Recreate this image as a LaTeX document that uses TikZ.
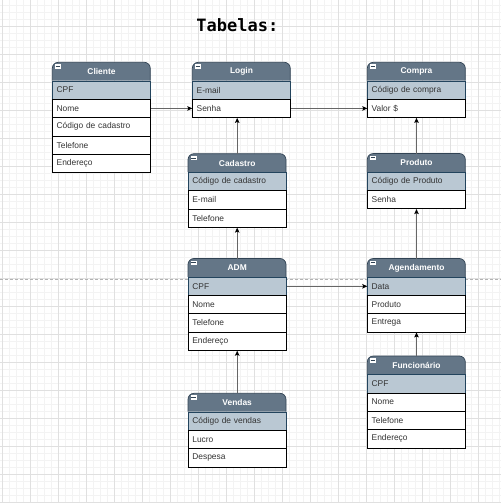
\documentclass[tikz,border=0pt]{standalone}
\usepackage{fontspec}
\setmainfont{Liberation Sans}
\newfontfamily\titlefont{DejaVu Sans Mono}
\usetikzlibrary{arrows.meta}
\definecolor{hdrfill}{HTML}{647687}
\definecolor{hdrline}{HTML}{314354}
\definecolor{keyfill}{HTML}{BAC8D3}
\definecolor{keyline}{HTML}{23445D}
\definecolor{gridmaj}{HTML}{E0E0E0}
\definecolor{gridmin}{HTML}{F3F3F3}
\definecolor{txt}{HTML}{333333}
\tikzset{
  hdrtext/.style={minimum width=98, minimum height=18.3, inner sep=0, text=white,
    font=\bfseries\fontsize{8.4}{10}\selectfont},
  fieldrow/.style={draw=black, line width=0.7, fill=white, minimum width=98,
    minimum height=18.3, inner xsep=4, inner ysep=0, text width=90, align=left,
    text=txt, font=\fontsize{8.4}{10}\selectfont},
  keyrow/.style={fieldrow, fill=keyfill, draw=keyline},
  conn/.style={draw=black!60, line width=1, -{Stealth[length=5pt,width=4.5pt,inset=1pt,color=black]}},
  minorgrid/.style={draw=gridmin, line width=0.6},
  majorgrid/.style={draw=gridmaj, line width=0.8},
  sepline/.style={draw=black!30, line width=0.8, dash pattern=on 3pt off 2pt}
}
\newcommand\dbtable[5]{%
  \filldraw[fill=hdrfill, draw=hdrline, line width=0.7, rounded corners=6]
    (#2,#3+18.3) -- (#2,#3) -- (#2+98,#3) -- (#2+98,#3+18.3);
  \node[hdrtext, anchor=north west] (#1) at (#2,#3) {#4};
  \fill[white] (#2+2.5,#3+2) rectangle (#2+8.5,#3+6.5);
  \draw[hdrline, line width=0.6] (#2+3.3,#3+4.25) -- (#2+7.7,#3+4.25);
  \foreach \f [count=\k] in {#5} {%
    \ifnum\k=1
      \node[keyrow, anchor=north west] (#1-\k) at (#2,#3+18.3*\k) {\f};
    \else
      \node[fieldrow, anchor=north west] (#1-\k) at (#2,#3+18.3*\k) {\f};
    \fi
  }%
}
\begin{document}
\begin{tikzpicture}[x=1pt, y=-1pt]
\useasboundingbox (0,0) rectangle (501,503);
\fill[white] (0,0) rectangle (501,503);
% grid
\foreach \i in {0,...,71} {
  \draw[minorgrid] (2.7+7*\i,0) -- (2.7+7*\i,503);
  \draw[minorgrid] (0,5.7+7*\i) -- (501,5.7+7*\i);
}
\foreach \i in {0,...,17} {
  \draw[majorgrid] (2.7+28*\i,0) -- (2.7+28*\i,503);
  \draw[majorgrid] (0,26.7+28*\i) -- (501,26.7+28*\i);
}
% separator
\draw[sepline] (0,279.3) -- (501,279.3);
% title
\node[font=\titlefont\bfseries\fontsize{17}{20}\selectfont, anchor=base, inner sep=0] (title) at (237.4,31.7) {Tabelas:};
% tables
\dbtable{cli}{52.3}{62.3}{Cliente}{CPF,Nome,Código de cadastro,Telefone,Endereço}
\dbtable{log}{192.3}{62.3}{Login}{E-mail,Senha}
\dbtable{com}{367.3}{62.3}{Compra}{Código de compra,Valor \$}
\dbtable{cad}{188}{153.7}{Cadastro}{Código de cadastro,E-mail,Telefone}
\dbtable{pro}{367.3}{153.5}{Produto}{Código de Produto,Senha}
\dbtable{adm}{188}{258.5}{ADM}{CPF,Nome,Telefone,Endereço}
\dbtable{age}{367.3}{258.5}{Agendamento}{Data,Produto,Entrega}
\dbtable{fun}{367.3}{356}{Funcionário}{CPF,Nome,Telefone,Endereço}
\dbtable{ven}{188}{393.3}{Vendas}{Código de vendas,Lucro,Despesa}
% connectors
\draw[conn] (cli-2.east) -- (log-2.west);
\draw[conn] (log-2.east) -- (com-2.west);
\draw[conn] (cad.north) -- (cad.north |- log-2.south);
\draw[conn] (pro.north) -- (pro.north |- com-2.south);
\draw[conn] (adm.north) -- (adm.north |- cad-3.south);
\draw[conn] (age.north) -- (age.north |- pro-2.south);
\draw[conn] (adm-1.east) -- (age-1.west);
\draw[conn] (fun.north) -- (fun.north |- age-3.south);
\draw[conn] (ven.north) -- (ven.north |- adm-4.south);
\end{tikzpicture}
\end{document}
